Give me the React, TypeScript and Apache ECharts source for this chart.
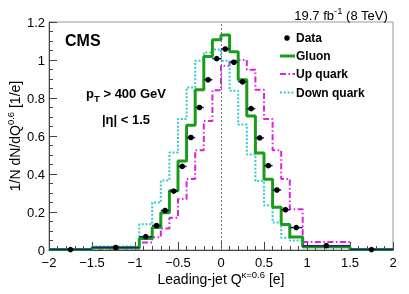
import React, { useEffect, useRef } from 'react';
import * as echarts from 'echarts';

// Histogram bin edges (Leading-jet Q, kappa = 0.6)
const binEdges = [-2, -1.5, -0.95, -0.8, -0.7, -0.6, -0.5, -0.4, -0.3, -0.2, -0.1, 0, 0.1, 0.2, 0.3, 0.4, 0.5, 0.6, 0.7, 0.8, 0.95, 1.5, 2];

const dataValues = [0.002, 0.013, 0.070, 0.129, 0.208, 0.310, 0.440, 0.592, 0.750, 0.896, 1.007, 1.058, 0.988, 0.885, 0.744, 0.590, 0.444, 0.316, 0.212, 0.118, 0.023, 0.002];
const gluonValues = [0.002, 0.012, 0.060, 0.118, 0.196, 0.312, 0.468, 0.657, 0.843, 1.019, 1.106, 1.131, 1.044, 0.896, 0.705, 0.510, 0.372, 0.225, 0.134, 0.068, 0.017, 0.002];
const upQuarkValues = [0.002, 0.008, 0.039, 0.067, 0.113, 0.170, 0.268, 0.374, 0.525, 0.679, 0.841, 0.970, 0.995, 1.000, 0.949, 0.843, 0.690, 0.525, 0.374, 0.215, 0.042, 0.003];
const downQuarkValues = [0.003, 0.018, 0.135, 0.250, 0.366, 0.513, 0.690, 0.855, 0.996, 1.040, 1.055, 0.996, 0.838, 0.660, 0.503, 0.363, 0.235, 0.145, 0.065, 0.050, 0.015, 0.002];

const legendLabels = ['Data', 'Gluon', 'Up quark', 'Down quark'];

const FONT = "'Liberation Sans', Arial, Helvetica, sans-serif";
const GREEN = '#1a9c1a';
const MAGENTA = '#e020e0';
const CYAN = '#33cccc';
const ERR = '#1c1c8c';

function stepPoints(vals: number[]) {
  return vals.flatMap((v, i) => [[binEdges[i], v], [binEdges[i + 1], v]]);
}

function fmtX(v: number) {
  const s = String(Math.round(v * 10) / 10);
  return s.replace('-', '\u2212');
}

export default function App() {
  const ref = useRef<HTMLDivElement>(null);
  useEffect(() => {
    if (!ref.current) return;
    const chart = echarts.init(ref.current, undefined, { renderer: 'svg' });
    const dataItems = dataValues.map((v, i) => [binEdges[i], binEdges[i + 1], (binEdges[i] + binEdges[i + 1]) / 2, v]);
    const histLine = (name: string, vals: number[], color: string, width: number, type: any, z: number, extra: any = {}) => ({
      name,
      type: 'line',
      data: stepPoints(vals),
      showSymbol: false,
      symbol: 'none',
      z,
      lineStyle: { color, width, type },
      ...extra,
    });
    const sup = { fontSize: 9.5, lineHeight: 9, verticalAlign: 'top', fontFamily: FONT, fill: '#000' };
    const option: any = {
      animation: false,
      grid: { left: 49, right: 16, top: 22, bottom: 44, show: true, borderColor: '#999', borderWidth: 1 },
      xAxis: {
        type: 'value', min: -2, max: 2, interval: 0.5,
        axisLine: { show: true, onZero: false, lineStyle: { color: '#444', width: 1 } },
        axisTick: { show: true, inside: true, length: 8, lineStyle: { color: '#444' } },
        minorTick: { show: true, splitNumber: 5, length: 4, lineStyle: { color: '#444' } },
        splitLine: { show: false },
        axisLabel: { formatter: fmtX, fontSize: 13, lineHeight: 13, color: '#000', margin: 6, fontFamily: FONT },
      },
      yAxis: {
        type: 'value', min: 0, max: 1.2, interval: 0.2,
        axisLine: { show: true, onZero: false, lineStyle: { color: '#444', width: 1 } },
        axisTick: { show: true, inside: true, length: 8, lineStyle: { color: '#444' } },
        minorTick: { show: true, splitNumber: 4, length: 4, lineStyle: { color: '#444' } },
        splitLine: { show: false },
        axisLabel: { formatter: (v: number) => String(Math.round(v * 10) / 10), fontSize: 13, lineHeight: 12, color: '#000', margin: 4, fontFamily: FONT },
      },
      series: [
        histLine('Up quark', upQuarkValues, MAGENTA, 2, [6, 2.5, 1.5, 2.5], 2),
        histLine('Down quark', downQuarkValues, CYAN, 2, [2, 1.8], 3),
        histLine('Gluon', gluonValues, GREEN, 3, 'solid', 4, {
          markLine: {
            silent: true, symbol: 'none', label: { show: false },
            lineStyle: { type: [2, 2], color: '#777', width: 1 },
            data: [{ xAxis: 0 }],
          },
        }),
        {
          name: 'Data', type: 'custom', z: 10,
          data: dataItems,
          encode: { x: [0, 1, 2], y: 3 },
          renderItem: (params: any, api: any) => {
            const lo = api.coord([api.value(0), api.value(3)]);
            const hi = api.coord([api.value(1), api.value(3)]);
            const c = api.coord([api.value(2), api.value(3)]);
            return {
              type: 'group',
              children: [
                { type: 'line', shape: { x1: lo[0], y1: lo[1], x2: hi[0], y2: hi[1] }, style: { stroke: ERR, lineWidth: 1.5 } },
                { type: 'circle', shape: { cx: c[0], cy: c[1], r: 2.8 }, style: { fill: '#000' } },
              ],
            };
          },
        },
      ],
      graphic: [
        { type: 'text', right: 21, top: 5, style: { text: '{n|19.7 fb}{s|-1}{n| (8 TeV)}', rich: { n: { fontSize: 13, lineHeight: 20, fontFamily: FONT, fill: '#000' }, s: sup } } },
        { type: 'text', x: 65, y: 40, style: { text: 'CMS', fontSize: 16, fontWeight: 'bold', fontFamily: FONT, fill: '#000', verticalAlign: 'middle' } },
        { type: 'text', x: 126, y: 93, style: { text: '{n|p}{b|T}{n| > 400 GeV}', align: 'center', verticalAlign: 'middle', rich: { n: { fontSize: 13, fontWeight: 'bold', lineHeight: 20, fontFamily: FONT, fill: '#000' }, b: { fontSize: 9.5, fontWeight: 'bold', lineHeight: 9, verticalAlign: 'bottom', fontFamily: FONT, fill: '#000' } } } },
        { type: 'text', x: 126, y: 119, style: { text: '|\u03b7| < 1.5', fontSize: 13, fontWeight: 'bold', fontFamily: FONT, fill: '#000', align: 'center', verticalAlign: 'middle' } },
        // legend
        { type: 'circle', shape: { cx: 287, cy: 38, r: 2.8 }, style: { fill: '#000' } },
        { type: 'text', x: 296, y: 38, style: { text: legendLabels[0], fontSize: 12, fontWeight: 'bold', fontFamily: FONT, fill: '#000', verticalAlign: 'middle' } },
        { type: 'line', shape: { x1: 280, y1: 56, x2: 295, y2: 56 }, style: { stroke: GREEN, lineWidth: 3 } },
        { type: 'text', x: 296, y: 56, style: { text: legendLabels[1], fontSize: 12, fontWeight: 'bold', fontFamily: FONT, fill: '#000', verticalAlign: 'middle' } },
        { type: 'line', shape: { x1: 280, y1: 74, x2: 295, y2: 74 }, style: { stroke: MAGENTA, lineWidth: 2, lineDash: [6, 2.5, 1.5, 2.5] } },
        { type: 'text', x: 296, y: 74, style: { text: legendLabels[2], fontSize: 12, fontWeight: 'bold', fontFamily: FONT, fill: '#000', verticalAlign: 'middle' } },
        { type: 'line', shape: { x1: 280, y1: 92.5, x2: 295, y2: 92.5 }, style: { stroke: CYAN, lineWidth: 2, lineDash: [2, 1.8] } },
        { type: 'text', x: 296, y: 92.5, style: { text: legendLabels[3], fontSize: 12, fontWeight: 'bold', fontFamily: FONT, fill: '#000', verticalAlign: 'middle' } },
        // axis titles
        { type: 'text', x: 221, y: 279, style: { text: '{n|Leading-jet Q}{s|\u03ba=0.6}{n| [e]}', align: 'center', verticalAlign: 'middle', rich: { n: { fontSize: 14, lineHeight: 20, fontFamily: FONT, fill: '#000' }, s: sup } } },
        { type: 'text', x: 15, y: 136, rotation: Math.PI / 2, style: { text: '{n|1/N dN/dQ}{s|0.6}{n| [1/e]}', align: 'center', verticalAlign: 'middle', rich: { n: { fontSize: 14, lineHeight: 20, fontFamily: FONT, fill: '#000' }, s: sup } } },
      ],
    };
    chart.setOption(option);
    return () => chart.dispose();
  }, []);
  return <div ref={ref} style={{ position: 'fixed', left: 0, top: 0, width: 409, height: 294 }} />;
}
